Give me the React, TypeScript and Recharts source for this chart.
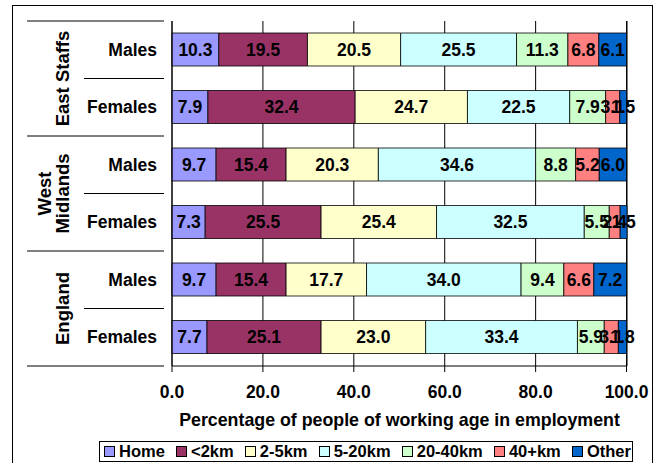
import React from "react";
import {
  BarChart,
  Bar,
  XAxis,
  YAxis,
  CartesianGrid,
  LabelList,
} from "recharts";

const groups = ["East Staffs", "West Midlands", "England"];
const categories = ["Males", "Females", "Males", "Females", "Males", "Females"];
const seriesNames = ["Home", "<2km", "2-5km", "5-20km", "20-40km", "40+km", "Other"];
const COLORS = ["#9999FF", "#993366", "#FFFFCC", "#CCFFFF", "#CCFFCC", "#FF8080", "#0066CC"];

const home = [10.3, 7.9, 9.7, 7.3, 9.7, 7.7];
const under2km = [19.5, 32.4, 15.4, 25.5, 15.4, 25.1];
const km2to5 = [20.5, 24.7, 20.3, 25.4, 17.7, 23.0];
const km5to20 = [25.5, 22.5, 34.6, 32.5, 34.0, 33.4];
const km20to40 = [11.3, 7.9, 8.8, 5.5, 9.4, 5.9];
const km40plus = [6.8, 3.1, 5.2, 2.4, 6.6, 3.1];
const other = [6.1, 1.5, 6.0, 1.5, 7.2, 1.8];

const xTicks = [0, 20, 40, 60, 80, 100];

const seriesValues = [home, under2km, km2to5, km5to20, km20to40, km40plus, other];

const data = categories.map((sex, i) => {
  const row: Record<string, string | number> = { key: String(i), sex };
  seriesNames.forEach((name, s) => {
    row[name] = seriesValues[s][i];
  });
  return row;
});

const FONT = "'Liberation Sans', Arial, sans-serif";
const BAND = 345 / 6;
const FS = 17.5;

function CategoryTick(props: any) {
  const { x, y, payload } = props;
  const idx = payload?.index ?? props.index ?? 0;
  const label = categories[idx];
  const isFemale = idx % 2 === 1;
  const groupName = groups[Math.floor(idx / 2)];
  const gy = y - BAND / 2;
  const words = groupName.split(" ");
  const groupText = (tx: number, ty: number, s: string) => (
    <text
      transform={`translate(${tx}, ${ty}) rotate(-90)`}
      textAnchor="middle"
      fontFamily={FONT}
      fontWeight="bold"
      fontSize={18.5}
      fill="#000"
    >
      {s}
    </text>
  );
  return (
    <g>
      <text
        x={157}
        y={y + 6}
        textAnchor="end"
        fontFamily={FONT}
        fontWeight="bold"
        fontSize={FS}
        fill="#000"
      >
        {label}
      </text>
      {idx === 0 && (
        <line x1={27} x2={x} y1={y - BAND / 2} y2={y - BAND / 2} stroke="#000" />
      )}
      <line
        x1={isFemale ? 27 : 84}
        x2={x}
        y1={y + BAND / 2}
        y2={y + BAND / 2}
        stroke="#000"
      />
      {isFemale &&
        (groupName === "West Midlands" ? (
          <>
            {groupText(51, gy, words[0])}
            {groupText(69, gy, words[1])}
          </>
        ) : (
          groupText(69, gy, groupName)
        ))}
    </g>
  );
}

export default function App() {
  return (
    <div
      style={{
        position: "absolute",
        left: 0,
        top: 0,
        width: 656,
        height: 463,
        overflow: "hidden",
        background: "#fff",
        fontFamily: FONT,
      }}
    >
      <div
        style={{
          position: "absolute",
          left: 12,
          top: 5,
          width: 639,
          height: 470,
          border: "1px solid #000",
        }}
      />
      <div style={{ position: "absolute", left: 0, top: 0 }}>
        <BarChart
          width={656}
          height={463}
          data={data}
          layout="vertical"
          margin={{ top: 21, right: 29, bottom: 0, left: 0 }}
          barSize={33}
        >
          <CartesianGrid horizontal={false} stroke="#000" strokeOpacity={1} />
          <XAxis
            type="number"
            domain={[0, 100]}
            ticks={xTicks}
            height={97}
            tickFormatter={(v: number) => v.toFixed(1)}
            tick={{ fill: "#000", fontSize: FS, fontWeight: "bold", fontFamily: FONT }}
            tickLine={{ stroke: "#000" }}
            tickSize={6}
            tickMargin={14}
            axisLine={{ stroke: "#000" }}
            label={{
              value: "Percentage of people of working age in employment",
              position: "insideTop",
              offset: 47,
              fill: "#000",
              fontSize: 17.8,
              fontWeight: "bold",
              fontFamily: FONT,
            }}
          />
          <YAxis
            type="category"
            dataKey="key"
            width={172}
            axisLine={{ stroke: "#000" }}
            tickLine={false}
            tick={<CategoryTick />}
            interval={0}
          />
          {seriesNames.map((name, i) => (
            <Bar
              key={name}
              dataKey={name}
              stackId="a"
              fill={COLORS[i]}
              stroke="#000"
              strokeWidth={0.8}
              isAnimationActive={false}
            >
              <LabelList
                dataKey={name}
                position="center"
                formatter={(v: any) => Number(v).toFixed(1)}
                fill="#000"
                fontSize={FS}
                fontWeight="bold"
                fontFamily={FONT}
              />
            </Bar>
          ))}
        </BarChart>
      </div>
      <div
        style={{
          position: "absolute",
          left: 99,
          top: 441,
          width: 534,
          height: 21,
          border: "1px solid #000",
          display: "flex",
          alignItems: "center",
          justifyContent: "space-between",
          paddingLeft: 4,
          paddingRight: 1,
          boxSizing: "border-box",
          fontSize: 16.5,
          fontWeight: "bold",
          color: "#000",
          whiteSpace: "nowrap",
        }}
      >
        {seriesNames.map((name, i) => (
          <div key={name} style={{ display: "flex", alignItems: "center" }}>
            <span
              style={{
                display: "inline-block",
                width: 9,
                height: 9,
                border: "1px solid #000",
                background: COLORS[i],
                marginRight: 4,
              }}
            />
            <span>{name}</span>
          </div>
        ))}
      </div>
    </div>
  );
}
